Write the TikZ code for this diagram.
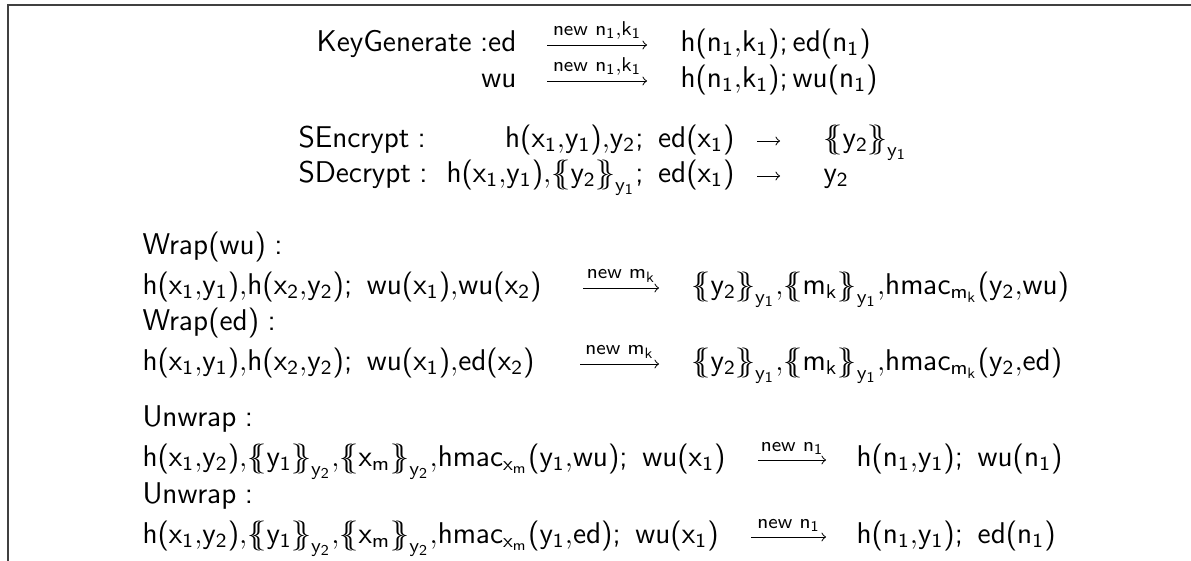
\documentclass[12pt,tikz,border=0pt]{standalone}
\usepackage{amsmath}
% sans serif letters and digits in math
\SetSymbolFont{operators}{normal}{OT1}{cmss}{m}{n}
\mathcode`\,="013B
\newcommand{\sm}[1]{\ensuremath{\mathrm{#1}}}
\newcommand{\enc}[2]{\mathopen{\{\mkern-6.5mu\{}#1\mathclose{\}\mkern-6.5mu\}}_{#2}}

\begin{document}
\begin{tikzpicture}[x=0.4pt, y=-0.4pt, every node/.style={font=\normalsize}]
\tikzstyle{lhs} = [anchor=mid east, inner sep=0pt]
\tikzstyle{rhs} = [anchor=mid west, inner sep=0pt]
\tikzstyle{arrow} = [->, >=to, line width=0.4pt]
\tikzstyle{lbl} = [above, font=\scriptsize, inner sep=2pt]

\useasboundingbox (0,0) rectangle (1191,560);
\draw [line width=0.8pt, black!75] (7.5,570) -- (7.5,4.5) -- (1200,4.5);

% KeyGenerate
\node (kgl) [lhs] at (517,45) {\sm{KeyGenerate\;{:}ed}};
\node (kgr) [rhs] at (680,45) {\sm{h(n_1,k_1);ed(n_1)}};
\node (kwl) [lhs] at (517,81) {\sm{wu}};
\node (kwr) [rhs] at (680,81) {\sm{h(n_1,k_1);wu(n_1)}};

% SEncrypt, SDecrypt
\node (sen) [rhs] at (298,141) {\sm{SEncrypt:}};
\node (sel) [lhs] at (735,141) {\sm{h(x_1,y_1),y_2;\ ed(x_1)}};
\node (ser) [rhs] at (823,141) {\sm{\enc{y_2}{y_1}}};
\node (sdn) [rhs] at (298,176) {\sm{SDecrypt:}};
\node (sdl) [lhs] at (735,176) {\sm{h(x_1,y_1),\enc{y_2}{y_1};\ ed(x_1)}};
\node (sdr) [rhs] at (823,176) {\sm{y_2}};

% Wrap
\node (wwn) [rhs] at (142,248) {\sm{Wrap(wu):}};
\node (wwl) [rhs] at (142,288) {\sm{h(x_1,y_1),h(x_2,y_2);\ wu(x_1),wu(x_2)}};
\node (wwr) [rhs] at (691,288) {\sm{\enc{y_2}{y_1},\enc{m_k}{y_1},hmac_{m_k}(y_2,wu)}};
\node (wen) [rhs] at (142,324) {\sm{Wrap(ed):}};
\node (wel) [rhs] at (142,364) {\sm{h(x_1,y_1),h(x_2,y_2);\ wu(x_1),ed(x_2)}};
\node (wer) [rhs] at (691,364) {\sm{\enc{y_2}{y_1},\enc{m_k}{y_1},hmac_{m_k}(y_2,ed)}};

% Unwrap
\node (uwn) [rhs] at (142,420) {\sm{Unwrap:}};
\node (uwl) [rhs] at (142,460) {\sm{h(x_1,y_2),\enc{y_1}{y_2},\enc{x_m}{y_2},hmac_{x_m}(y_1,wu);\ wu(x_1)}};
\node (uwr) [rhs] at (856,460) {\sm{h(n_1,y_1);\ wu(n_1)}};
\node (uen) [rhs] at (142,497) {\sm{Unwrap:}};
\node (uel) [rhs] at (142,537) {\sm{h(x_1,y_2),\enc{y_1}{y_2},\enc{x_m}{y_2},hmac_{x_m}(y_1,ed);\ wu(x_1)}};
\node (uer) [rhs] at (856,537) {\sm{h(n_1,y_1);\ ed(n_1)}};

% Arrows
\draw [arrow, shorten <=12pt, shorten >=13.2pt] (kgl.mid east) -- (kgr.mid west) node [lbl, midway, xshift=-0.6pt] {\sm{new\ n_1,k_1}};
\draw [arrow, shorten <=12pt, shorten >=13.2pt] (kwl.mid east) -- (kwr.mid west) node [lbl, midway, xshift=-0.6pt] {\sm{new\ n_1,k_1}};
\draw [arrow, shorten <=8.8pt, shorten >=17.2pt] (sel.mid east) -- (ser.mid west);
\draw [arrow, shorten <=8.8pt, shorten >=17.2pt] (sdl.mid east) -- (sdr.mid west);
\draw [arrow, shorten <=16.4pt, shorten >=12.8pt] (wwl.mid east) -- (wwr.mid west) node [lbl, midway, xshift=1.8pt] {\sm{new\ m_k}};
\draw [arrow, shorten <=18pt, shorten >=12.8pt] (wel.mid east) -- (wer.mid west) node [lbl, midway, xshift=2.6pt] {\sm{new\ m_k}};
\draw [arrow, shorten <=12.8pt, shorten >=12pt] (uwl.mid east) -- (uwr.mid west) node [lbl, midway, xshift=0.4pt] {\sm{new\ n_1}};
\draw [arrow, shorten <=12.8pt, shorten >=12pt] (uel.mid east) -- (uer.mid west) node [lbl, midway, xshift=0.4pt] {\sm{new\ n_1}};
\end{tikzpicture}
\end{document}
